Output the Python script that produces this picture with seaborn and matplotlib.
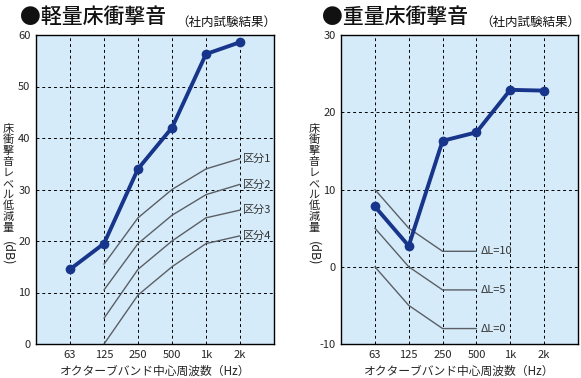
import numpy as np
import pandas as pd
import matplotlib
matplotlib.use("Agg")
import matplotlib.pyplot as plt
import seaborn as sns

bands = ["63", "125", "250", "500", "1k", "2k"]

# light floor impact (left)
light_result = [14.5, 19.5, 34, 42, 56.3, 58.6]
light_grade_bands = ["125", "250", "500", "1k", "2k"]
light_grades = {
    "区分1": [15.5, 24.5, 30, 34, 36],
    "区分2": [10.5, 19.5, 25, 29, 31],
    "区分3": [5, 14.5, 20, 24.5, 26],
    "区分4": [0, 9.5, 15, 19.5, 21],
}

# heavy floor impact (right)
heavy_result = [7.8, 2.7, 16.3, 17.4, 22.9, 22.8]
heavy_grade_bands = ["63", "125", "250", "500"]
heavy_grades = {
    "ΔL=10": [10, 5, 2, 2],
    "ΔL=5": [5, 0, -3, -3],
    "ΔL=0": [0, -5, -8, -8],
}

sns.set_style("white")
plt.rcParams["font.family"] = ["Noto Sans CJK JP", "DejaVu Sans"]

bg = "#d6ebf9"
navy = "#17358a"
grey = "#5a5f66"

fig = plt.figure(figsize=(5.81, 3.78), dpi=100)
W, H = 581, 378


def pos(v):
    return [bands.index(b) for b in v]


def setup(ax, ylim, yticks, gridy):
    ax.set_facecolor(bg)
    ax.set_xlim(-1, 6)
    ax.set_ylim(*ylim)
    ax.set_xticks(range(len(bands)))
    ax.set_xticklabels(bands, fontsize=8)
    ax.set_yticks(yticks)
    ax.set_yticklabels([str(t) for t in yticks], fontsize=8)
    ax.tick_params(length=0, pad=4)
    for x in range(len(bands)):
        ax.axvline(x, color="black", lw=0.7, ls=(0, (3, 3)), zorder=1)
    for y in gridy:
        ax.axhline(y, color="black", lw=0.7, ls=(0, (3, 3)), zorder=1)
    for s in ax.spines.values():
        s.set_color("black")
        s.set_linewidth(1.0)


def ylab(x):
    # vertical writing: one character per row, then (dB) turned
    for i, ch in enumerate("床衝撃音レベル低減量"):
        fig.text(x / W, 1 - (129 + i * 11) / H, ch, fontsize=8, ha="center",
                 va="center", color="#222222")
    fig.text(x / W, 1 - 253 / H, "(dB)", fontsize=9, ha="center",
             va="center", rotation=270, color="#222222")


def finish(ax):
    ax.set_xlabel("オクターブバンド中心周波数（Hz）", fontsize=8.5, labelpad=4)
    ax.set_ylabel("")


# left panel
ax1 = fig.add_axes([36 / W, 34 / H, 238 / W, 309 / H])
setup(ax1, (0, 60), list(range(0, 61, 10)), range(10, 60, 10))
for name, vals in light_grades.items():
    d = pd.DataFrame({"x": pos(light_grade_bands), "y": vals})
    sns.lineplot(data=d, x="x", y="y", ax=ax1, color=grey, lw=1, zorder=2)
    ax1.text(len(bands) - 1 + 0.1, vals[-1], name, fontsize=8, va="center",
             ha="left", color="#333333")
d = pd.DataFrame({"x": pos(bands), "y": light_result})
sns.lineplot(data=d, x="x", y="y", ax=ax1, color=navy, lw=2.8, marker="o",
             markersize=7, markeredgewidth=0, zorder=3)
finish(ax1)
fig.text(20 / W, 1 - 17 / H, "●軽量床衝撃音", fontsize=15, ha="left",
         va="center", color="#111111", fontweight="medium")
fig.text(276 / W, 1 - 22 / H, "（社内試験結果）", fontsize=9, ha="right",
         va="center", color="#111111")
ylab(8)

# right panel
ax2 = fig.add_axes([341 / W, 34 / H, 237 / W, 309 / H])
setup(ax2, (-10, 30), list(range(-10, 31, 10)), [0, 10, 20])
for name, vals in heavy_grades.items():
    d = pd.DataFrame({"x": pos(heavy_grade_bands), "y": vals})
    sns.lineplot(data=d, x="x", y="y", ax=ax2, color=grey, lw=1, zorder=2)
    ax2.text(len(heavy_grade_bands) - 1 + 0.12, vals[-1], name, fontsize=8,
             va="center", ha="left", color="#333333")
d = pd.DataFrame({"x": pos(bands), "y": heavy_result})
sns.lineplot(data=d, x="x", y="y", ax=ax2, color=navy, lw=2.8, marker="o",
             markersize=7, markeredgewidth=0, zorder=3)
finish(ax2)
fig.text(322 / W, 1 - 17 / H, "●重量床衝撃音", fontsize=15, ha="left",
         va="center", color="#111111", fontweight="medium")
fig.text(580 / W, 1 - 22 / H, "（社内試験結果）", fontsize=9, ha="right",
         va="center", color="#111111")
ylab(314)

fig.savefig("out.png", dpi=100)
